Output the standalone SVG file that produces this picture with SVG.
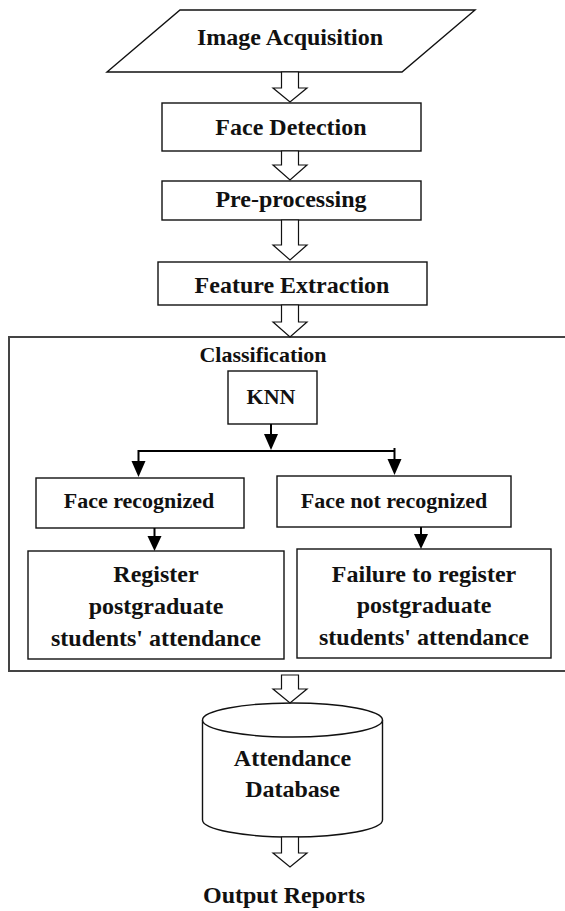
<svg xmlns="http://www.w3.org/2000/svg" width="565" height="911" viewBox="0 0 565 911">
<style>
.box{fill:#fff;stroke:#111;stroke-width:1.4}
.frame{fill:none;stroke:#444;stroke-width:2}
.blk{fill:#fff;stroke:#111;stroke-width:1.2;stroke-linejoin:miter}
.ln{fill:none;stroke:#000;stroke-width:2}
.hd{fill:#000}
text{font-family:"Liberation Serif","Times New Roman",serif;font-weight:bold;fill:#111;text-anchor:middle}
.t24{font-size:24px}
.t22{font-size:22px}
</style>
<rect width="565" height="911" fill="#fff"/>
<g id="classification">
<rect class="frame" x="9" y="337" width="560" height="334"/>
<text class="t22" x="263" y="362">Classification</text>
</g>
<g id="image-acquisition">
<polygon class="box" points="180,10 475,10 402,72 107,72"/>
<text class="t24" x="290" y="45">Image Acquisition</text>
</g>
<g id="face-detection">
<rect class="box" x="162" y="103" width="259" height="48"/>
<text class="t24" x="291" y="135">Face Detection</text>
</g>
<g id="pre-processing">
<rect class="box" x="162" y="181" width="259" height="39"/>
<text class="t24" x="291" y="207">Pre-processing</text>
</g>
<g id="feature-extraction">
<rect class="box" x="158" y="262" width="269" height="43"/>
<text class="t24" x="292" y="293">Feature Extraction</text>
</g>
<g id="knn">
<rect class="box" x="228" y="371" width="89" height="53"/>
<text class="t22" x="271" y="404">KNN</text>
</g>
<g id="face-recognized">
<rect class="box" x="36" y="478" width="208" height="50"/>
<text class="t22" x="139" y="508">Face recognized</text>
</g>
<g id="face-not-recognized">
<rect class="box" x="277" y="476" width="234" height="51"/>
<text class="t22" x="394" y="508">Face not recognized</text>
</g>
<g id="register">
<rect class="box" x="28" y="551" width="256" height="108"/>
<text class="t24" x="156" y="582">Register</text>
<text class="t24" x="156" y="614">postgraduate</text>
<text class="t24" x="156" y="646">students' attendance</text>
</g>
<g id="failure">
<rect class="box" x="297" y="549" width="254" height="109"/>
<text class="t24" x="424" y="582">Failure to register</text>
<text class="t24" x="424" y="613">postgraduate</text>
<text class="t24" x="424" y="645">students' attendance</text>
</g>
<g id="attendance-database">
<path class="box" d="M202.5,720 L202.5,820 A90,17 0 0 0 382.5,820 L382.5,720"/>
<ellipse class="box" cx="292.5" cy="720" rx="90" ry="17"/>
<text class="t24" x="292.5" y="766">Attendance</text>
<text class="t24" x="292.5" y="797">Database</text>
</g>
<g id="output-reports">
<text class="t24" x="284" y="903">Output Reports</text>
</g>
<g id="connectors">
<polygon class="blk" points="281.5,72 298.5,72 298.5,88 307,88 290,102 273,88 281.5,88"/>
<polygon class="blk" points="281.5,151 298.5,151 298.5,165 307,165 290,180 273,165 281.5,165"/>
<polygon class="blk" points="281.5,220 298.5,220 298.5,245 307,245 290,260 273,245 281.5,245"/>
<polygon class="blk" points="281.5,305 298.5,305 298.5,322 307,322 290,337 273,322 281.5,322"/>
<polygon class="blk" points="281.5,675 298.5,675 298.5,689 307,689 290,703 273,689 281.5,689"/>
<polygon class="blk" points="281.5,837 298.5,837 298.5,853 307,853 290,867 273,853 281.5,853"/>
<line class="ln" x1="271" y1="424" x2="271" y2="436"/>
<polygon class="hd" points="264,434 278,434 271,450"/>
<polyline class="ln" points="138.5,462 138.5,451 394.5,451"/>
<line class="ln" x1="394.5" y1="448" x2="394.5" y2="462"/>
<polygon class="hd" points="131.5,461 145.5,461 138.5,477"/>
<polygon class="hd" points="387.5,459 401.5,459 394.5,475"/>
<line class="ln" x1="154.5" y1="528" x2="154.5" y2="539"/>
<polygon class="hd" points="147.5,536 161.5,536 154.5,551"/>
<line class="ln" x1="421" y1="527" x2="421" y2="537"/>
<polygon class="hd" points="414,534 428,534 421,549"/>
</g>
</svg>
